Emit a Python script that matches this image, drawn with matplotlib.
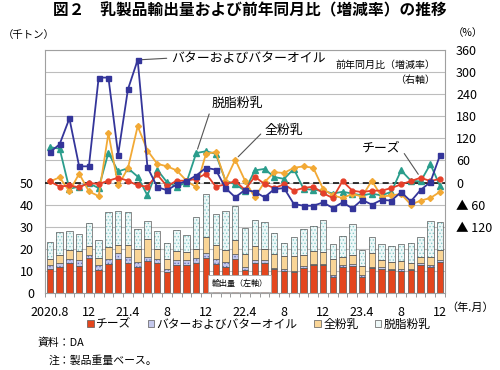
import numpy as np
import matplotlib
matplotlib.use('Agg')
import matplotlib.pyplot as plt
from matplotlib.patches import Patch

plt.rcParams['font.family'] = ['Noto Sans CJK JP', 'DejaVu Sans']
plt.rcParams['hatch.linewidth'] = 0.6

# 月 (2020.8 - 2023.12)
months = np.arange(1, 42)
tick_pos = [1, 5, 9, 13, 17, 21, 25, 29, 33, 37, 41]
tick_labels = ['2020.8', '12', '21.4', '8', '12', '22.4', '8', '12', '23.4', '8', '12']

# 輸出量 (千トン) 積み上げ
cheese = [10.8, 11.7, 13.7, 12.2, 15.8, 10.5, 13.1, 15.5, 13.8, 12.0, 14.3, 13.8, 9.6, 12.5,
          12.8, 13.8, 16.0, 13.0, 11.8, 15.5, 10.6, 13.8, 13.8, 10.7, 10.1, 9.3, 11.4, 12.6,
          12.6, 7.3, 11.7, 12.2, 7.3, 11.3, 11.1, 10.2, 10.1, 10.4, 12.8, 12.0, 14.0]
butter = [2.0, 2.1, 1.6, 2.7, 1.3, 2.3, 2.2, 2.7, 2.3, 2.1, 2.1, 1.8, 1.2, 2.3, 2.2, 2.1, 2.2,
          2.4, 2.2, 2.3, 1.4, 1.2, 1.0, 0.8, 0.7, 0.7, 0.8, 0.6, 0.7, 1.0, 0.9, 0.8, 0.8, 0.7,
          0.7, 0.6, 0.6, 0.6, 0.6, 0.8, 0.9]
wmp = [2.8, 3.3, 4.2, 4.2, 4.1, 3.0, 5.4, 3.7, 5.5, 6.0, 7.9, 4.2, 4.7, 4.2, 3.6, 4.1, 7.0,
       6.2, 5.6, 6.2, 5.8, 6.3, 5.3, 6.1, 5.9, 6.7, 5.1, 5.9, 5.3, 6.9, 3.8, 4.3, 4.2, 6.2,
       3.1, 3.3, 4.0, 2.7, 2.7, 3.3, 4.5]
smp = [7.5, 10.4, 8.4, 7.8, 10.6, 8.2, 16.1, 15.3, 14.9, 8.7, 8.3, 8.3, 7.0, 9.4, 7.8, 14.6,
       19.5, 14.1, 17.4, 15.5, 11.8, 11.9, 11.9, 9.7, 6.1, 8.7, 11.5, 11.1, 14.3, 6.9, 9.4,
       13.8, 7.4, 7.2, 7.5, 7.4, 7.7, 9.0, 9.3, 16.3, 12.9]

# 前年同月比 (%)
butter_r = [82, 104, 174, 44, 44, 285, 285, 76, 253, 333, 42, -12, -21, -5, 4, 19, 40, 35,
            -15, -40, -20, -25, -40, -18, -15, -58, -63, -63, -54, -69, -54, -70, -47, -60,
            -47, -49, -26, -51, -20, 1, 75]
wmp_r = [3, 14, -24, 24, -24, -37, 134, -8, 39, 153, 87, 51, 44, 33, 5, -13, 78, 83, 5, 62,
         5, -40, 1, 28, 26, 40, 44, 40, -17, -35, -42, -31, -38, 5, -38, -35, -31, -60, -49,
         -42, -25]
smp_r = [96, 92, -17, -11, -2, -15, 81, 30, 39, 16, -35, 35, 1, -11, 0, 80, 85, 78, 5, -5,
         -22, 33, 37, 15, 10, 37, -17, -20, -22, -30, -25, -30, -35, -30, -35, -25, 33, 5, 3,
         50, -10]
cheese_r = [3, -11, -8, -13, -1, -4, 5, 13, 5, -8, -11, 22, -10, 5, 5, 10, 24, -11, -5, 4,
            -20, 16, -4, -15, -5, -22, -15, -11, -29, -42, 4, -22, -26, -22, -22, -15, -5, 4,
            13, 4, 10]

c_cheese = '#E4461E'
c_butter_bar = '#C4C8EC'
c_wmp_bar = '#F9D597'
c_smp_bar = '#EEF8F8'
c_butter = '#34359A'
c_wmp = '#F2A935'
c_smp = '#2A9D8C'
c_red = '#E5402A'
grid_c = '#BDBDBD'
edge_c = '#5A5A5A'

fig = plt.figure(figsize=(5, 3.7), dpi=100)
ax = fig.add_axes([0.09, 0.208, 0.80, 0.657])
ax2 = ax.twinx()

# bars
w = 0.66
b0 = np.zeros(len(months))
ax.bar(months, cheese, w, bottom=b0, color=c_cheese, edgecolor=edge_c, lw=0.5, zorder=2)
b0 = b0 + np.array(cheese)
ax.bar(months, butter, w, bottom=b0, color=c_butter_bar, edgecolor='#6670B8', hatch='.....',
       lw=0, zorder=2)
ax.bar(months, butter, w, bottom=b0, fill=False, edgecolor=edge_c, lw=0.5, zorder=2)
b0 = b0 + np.array(butter)
ax.bar(months, wmp, w, bottom=b0, color=c_wmp_bar, edgecolor=edge_c, lw=0.5, zorder=2)
b0 = b0 + np.array(wmp)
ax.bar(months, smp, w, bottom=b0, color=c_smp_bar, edgecolor='#86CACA', hatch='.....',
       lw=0, zorder=2)
ax.bar(months, smp, w, bottom=b0, fill=False, edgecolor=edge_c, lw=0.5, zorder=2)

ax.set_xlim(0.5, 41.4)
ax.set_ylim(0, 110)
ax.set_yticks(np.arange(0, 111, 10))
ax.set_yticklabels([str(v) if v <= 50 else '' for v in range(0, 111, 10)])
ax.yaxis.grid(True, color=grid_c, lw=0.8)
ax.set_axisbelow(True)
ax.tick_params(axis='y', length=0, pad=8, labelsize=9)
ax.set_xticks(tick_pos)
ax.set_xticklabels(tick_labels)
ax.set_xticks(np.arange(0.5, 41.6, 1), minor=True)
ax.tick_params(axis='x', which='major', length=0, pad=9, labelsize=9)
ax.tick_params(axis='x', which='minor', length=3, color='#888888', width=0.6)
for s in ax.spines.values():
    s.set_color('#A0A0A0')
    s.set_linewidth(0.8)

ax.text(20.4, 4.3, '輸出量（左軸）', fontsize=5.8, ha='center', va='center', zorder=5,
        bbox=dict(boxstyle='square,pad=0.45', fc='white', ec='#AAAAAA', lw=0.6))

# lines
ax2.axhline(0, color='black', lw=1.1, ls=(0, (4, 2.5)), zorder=1)
ax2.plot(months, smp_r, color=c_smp, lw=1.3, marker='^', ms=3.8, zorder=3)
ax2.plot(months, wmp_r, color=c_wmp, lw=1.3, marker='D', ms=3.0, zorder=3)
ax2.plot(months, cheese_r, color=c_red, lw=1.3, marker='o', ms=3.5, zorder=4)
ax2.plot(months, butter_r, color=c_butter, lw=1.3, marker='s', ms=3.6, zorder=4)
ax2.set_ylim(-300, 360)
rt = [360, 300, 240, 180, 120, 60, 0, -60, -120]
ax2.set_yticks(rt)
ax2.set_yticklabels([str(v) if v >= 0 else '▲ ' + str(-v) for v in rt])
ax2.tick_params(axis='y', length=0, pad=8, labelsize=9)
for s in ax2.spines.values():
    s.set_visible(False)

lead = dict(arrowstyle='-', color='#555555', lw=0.8, shrinkA=1, shrinkB=3)
ax2.annotate('バターおよびバターオイル', xy=(10, butter_r[9]), xytext=(13.4, 338),
             fontsize=9.3, va='center', ha='left',
             arrowprops=dict(lead, relpos=(0, 0.5)))
ax2.annotate('脱脂粉乳', xy=(16, smp_r[15]), xytext=(17.6, 215),
             fontsize=9.3, va='center', ha='left',
             arrowprops=dict(lead, relpos=(0, 0.3)))
ax2.annotate('全粉乳', xy=(20, wmp_r[19]), xytext=(23.0, 142),
             fontsize=9.3, va='center', ha='left',
             arrowprops=dict(lead, relpos=(0, 0.5)))
ax2.annotate('チーズ', xy=(39, cheese_r[38]), xytext=(33.0, 93),
             fontsize=9.3, va='center', ha='left',
             arrowprops=dict(lead, relpos=(1, 0.5)))
ax2.text(40.5, 320, '前年同月比（増減率）', fontsize=7.2, ha='right', va='center')
ax2.text(40.5, 279, '（右軸）', fontsize=7.2, ha='right', va='center')

fig.text(0.5, 0.972, '図２　乳製品輸出量および前年同月比（増減率）の推移', fontsize=11.3,
         fontweight='bold', ha='center', va='center')
fig.text(0.005, 0.905, '（千トン）', fontsize=7.5, ha='left', va='center')
fig.text(0.905, 0.91, '（%）', fontsize=7.5, ha='left', va='center')
fig.text(0.893, 0.168, '（年.月）', fontsize=8, ha='left', va='center')

handles = [Patch(facecolor=c_cheese, edgecolor=edge_c, lw=0.5),
           Patch(facecolor=c_butter_bar, edgecolor=edge_c, lw=0.5),
           Patch(facecolor=c_wmp_bar, edgecolor=edge_c, lw=0.5),
           Patch(facecolor=c_smp_bar, edgecolor=edge_c, lw=0.5)]
fig.legend(handles, ['チーズ', 'バターおよびバターオイル', '全粉乳', '脱脂粉乳'],
           loc='center', bbox_to_anchor=(0.518, 0.124), ncol=4, frameon=False,
           fontsize=8.5, handlelength=0.55, handleheight=0.55, handletextpad=0.2,
           columnspacing=1.4)

fig.text(0.076, 0.073, '資料：DA', fontsize=7.8, ha='left', va='center')
fig.text(0.098, 0.025, '注：製品重量ベース。', fontsize=7.8, ha='left', va='center')

fig.savefig('out.png', dpi=100)
